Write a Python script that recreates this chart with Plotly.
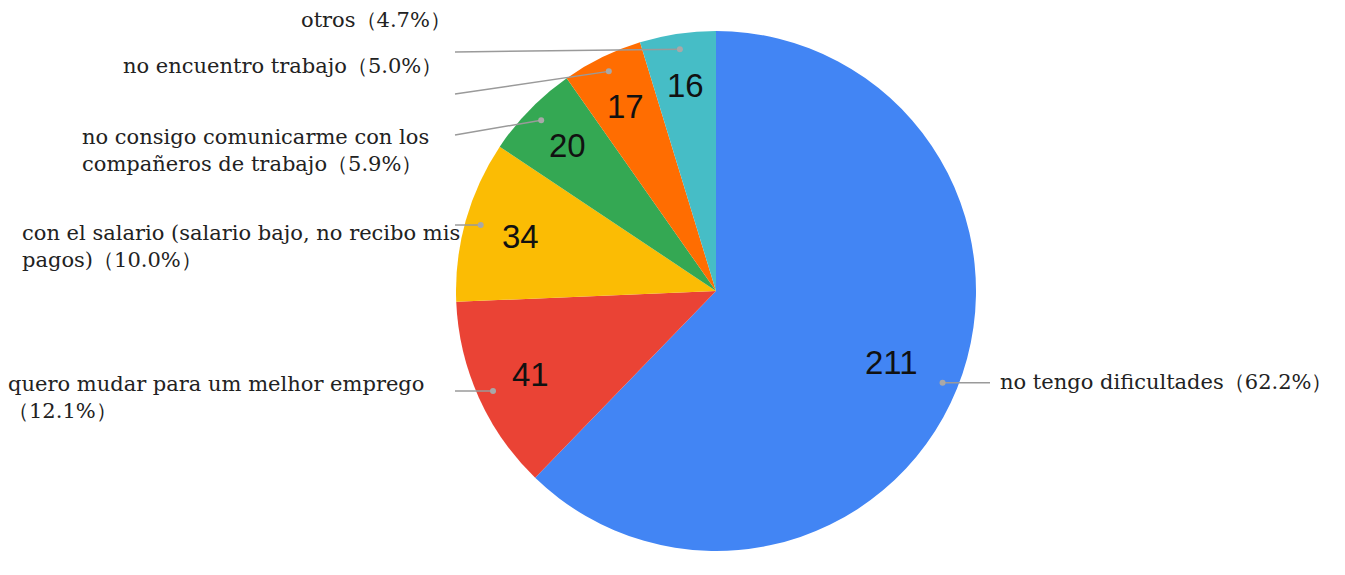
import math
import plotly.graph_objects as go

labels = ["no tengo dificultades", "quero mudar para um melhor emprego",
          "con el salario (salario bajo, no recibo mis pagos)",
          "no consigo comunicarme con los compañeros de trabajo",
          "no encuentro trabajo", "otros"]
values = [211, 41, 34, 20, 17, 16]
colors = ["#4285F4", "#EA4335", "#FBBC04", "#34A853", "#FF6D01", "#46BDC6"]
label_texts = [
    "no tengo dificultades（62.2%）",
    "quero mudar para um melhor emprego<br>（12.1%）",
    "con el salario (salario bajo, no recibo mis<br>pagos)（10.0%）",
    "no consigo comunicarme con los<br>compañeros de trabajo（5.9%）",
    "no encuentro trabajo（5.0%）",
    "otros（4.7%）",
]

OFF = 8  # page body margin
W, H = 1345 - OFF, 575 - OFF
CX, CY, R = 716, 291, 260  # page pixel coordinates

# label layout (page pixels): x, y, xanchor, align
label_pos = [(998, 382, "left", "left"), (6, 397, "left", "left"),
             (20, 246, "left", "left"), (80, 150, "left", "left"),
             (444, 66, "right", "right"), (453, 20, "right", "right")]
# leader line end points (page pixels)
line_end = [(990, None), (455, None), (455, None), (455, 135), (455, 94), (455, 52)]
num_r = [0.73, 0.78, 0.78, 0.8, 0.79, 0.8]

def px(x):
    return (x - OFF) / W

def py(y):
    return 1 - (y - OFF) / H

fig = go.Figure(go.Pie(
    labels=labels, values=values, sort=False, direction="clockwise", rotation=0,
    marker=dict(colors=colors, line=dict(width=0)),
    textinfo="none", hoverinfo="label+value+percent", showlegend=False,
    domain=dict(x=[px(CX - R), px(CX + R)], y=[py(CY + R), py(CY - R)]),
))

total = sum(values)
annotations = []
shapes = []
cum = 0
for i, v in enumerate(values):
    a0 = cum / total * 360
    cum += v
    a1 = cum / total * 360
    mid = math.radians((a0 + a1) / 2)
    nx = CX + math.sin(mid) * R * num_r[i]
    ny = CY - math.cos(mid) * R * num_r[i]
    annotations.append(dict(x=px(nx), y=py(ny), xref="paper", yref="paper", text=str(v),
                            xanchor="center", yanchor="middle",
                            showarrow=False, font=dict(family="Liberation Sans, Arial", size=33, color="#111")))
    dx = CX + math.sin(mid) * R * 0.94
    dy = CY - math.cos(mid) * R * 0.94
    ex, ey = line_end[i]
    if ey is None:
        ey = dy
    shapes.append(dict(type="line", xref="paper", yref="paper", x0=px(dx), y0=py(dy), x1=px(ex), y1=py(ey),
                       line=dict(color="#9a9a9a", width=1.5)))
    shapes.append(dict(type="circle", xref="paper", yref="paper", x0=px(dx - 3), x1=px(dx + 3),
                       y0=py(dy - 3), y1=py(dy + 3), fillcolor="#a8a8a8", line=dict(width=0)))
    lx, ly, xa, al = label_pos[i]
    annotations.append(dict(x=px(lx), y=py(ly), xref="paper", yref="paper", text=label_texts[i],
                            showarrow=False, xanchor=xa, yanchor="middle", align=al,
                            font=dict(family="DejaVu Serif, Liberation Serif, serif", size=21, color="#222")))

fig.update_layout(width=W, height=H, margin=dict(l=0, r=0, t=0, b=0),
                  paper_bgcolor="white", plot_bgcolor="white",
                  annotations=annotations, shapes=shapes)
fig.write_html("out.html")
